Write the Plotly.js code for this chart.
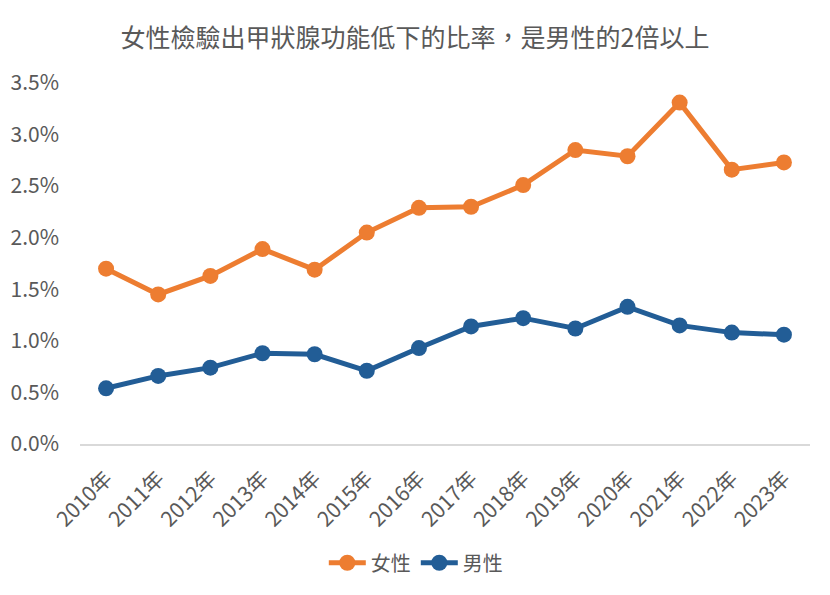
<!DOCTYPE html>
<html>
<head>
<meta charset="utf-8">
<script src="https://cdn.plot.ly/plotly-3.0.1.min.js"></script>
<style>
  html, body { margin: 0; padding: 0; background: #fff; }
  #chart { width: 830px; height: 595px; outline: 2px solid #e3e3e3; outline-offset: -2px; }
</style>
</head>
<body>
<div id="chart"></div>
<script>
// 甲狀腺功能低下檢出率（%），依年度與性別
const years = ['2010年','2011年','2012年','2013年','2014年','2015年','2016年',
               '2017年','2018年','2019年','2020年','2021年','2022年','2023年'];
const female = [1.70, 1.45, 1.63, 1.89, 1.69, 2.05, 2.29, 2.30, 2.51, 2.85, 2.79, 3.31, 2.66, 2.73];
const male   = [0.54, 0.66, 0.74, 0.88, 0.87, 0.71, 0.93, 1.14, 1.22, 1.12, 1.33, 1.15, 1.08, 1.06];
const yTicks = [0, 0.5, 1.0, 1.5, 2.0, 2.5, 3.0, 3.5];
const yTickText = yTicks.map(v => v.toFixed(1) + '%');

const FONT = '"Noto Sans CJK TC", "Noto Sans", sans-serif';
const GREY = '#595959';

const traces = [
  {
    name: '女性', x: years, y: female, type: 'scatter', mode: 'lines+markers',
    line: { color: '#ED7D31', width: 5 },
    marker: { color: '#ED7D31', size: 16 }
  },
  {
    name: '男性', x: years, y: male, type: 'scatter', mode: 'lines+markers',
    line: { color: '#225D96', width: 5 },
    marker: { color: '#225D96', size: 16 }
  }
];

const layout = {
  width: 830, height: 595,
  margin: { l: 80, r: 20, t: 82.5, b: 149.3 },
  paper_bgcolor: '#fff', plot_bgcolor: '#fff',
  font: { family: FONT, color: GREY, size: 20 },
  title: {
    text: '女性檢驗出甲狀腺功能低下的比率，是男性的2倍以上',
    font: { family: FONT, size: 25, color: GREY },
    x: 0.5, xref: 'container', xanchor: 'center',
    y: 1 - 38 / 595, yref: 'container', yanchor: 'middle'
  },
  xaxis: {
    type: 'category', range: [-0.5, 13.5], fixedrange: true,
    tickangle: -45, showgrid: false, zeroline: false,
    showline: true, linecolor: '#d9d9d9', linewidth: 2,
    ticks: '', ticklabelstandoff: 12,
    tickfont: { family: FONT, size: 21, color: GREY }
  },
  yaxis: {
    range: [0, 3.5], fixedrange: true,
    tickmode: 'array', tickvals: yTicks, ticktext: yTickText,
    showgrid: false, zeroline: false, showline: false,
    ticks: '', ticklabelstandoff: 20,
    tickfont: { family: FONT, size: 21, color: GREY }
  },
  showlegend: true,
  legend: {
    orientation: 'h', x: 0.46, xanchor: 'center', y: -0.329, yanchor: 'middle',
    font: { family: FONT, size: 20, color: GREY },
    itemwidth: 37, tracegroupgap: 0
  }
};

Plotly.newPlot('chart', traces, layout, { displayModeBar: false, staticPlot: true });
</script>
</body>
</html>
